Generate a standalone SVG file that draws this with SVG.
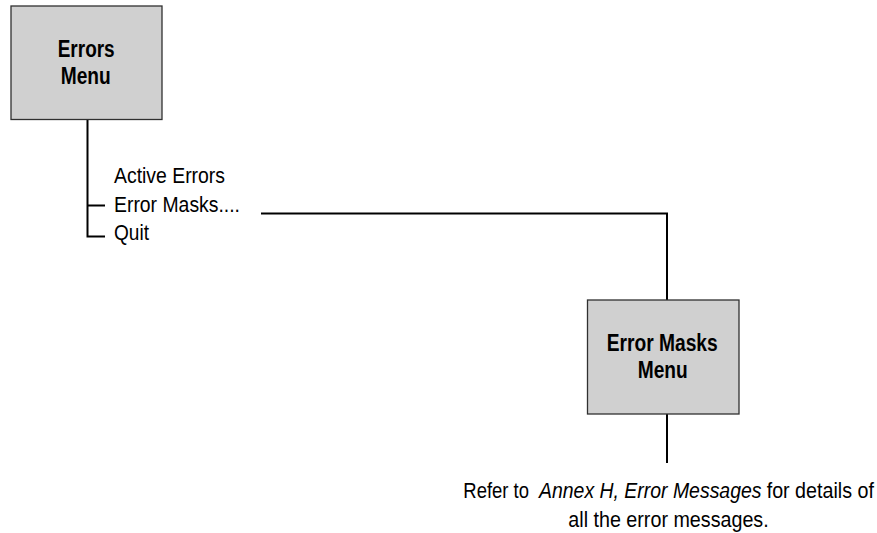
<svg xmlns="http://www.w3.org/2000/svg" width="877" height="533" viewBox="0 0 877 533">
<style>
.box{fill:#d0d0d0;stroke:#303030;stroke-width:1.3}
.ln{fill:none;stroke:#000;stroke-width:2}
.t{font-family:"Liberation Sans",Arial,sans-serif;fill:#000}
.b{font-size:23px;font-weight:bold}
.r{font-size:22px}
.i{font-style:italic}
</style>
<rect width="877" height="533" fill="#fff"/>
<g id="connectors">
<path class="ln" d="M87.5 120 V236.5 H105 M87.5 205.5 H105"/>
<path class="ln" d="M261 213.5 H667 V300"/>
<path class="ln" d="M667 414 V463"/>
</g>
<g id="errors-menu">
<rect class="box" x="11" y="6" width="151" height="113.5"/>
<text class="t b" x="57.7" y="57" textLength="57" lengthAdjust="spacingAndGlyphs">Errors</text>
<text class="t b" x="60.7" y="84" textLength="50" lengthAdjust="spacingAndGlyphs">Menu</text>
</g>
<g id="menu-items">
<text class="t r" x="114" y="183" textLength="111" lengthAdjust="spacingAndGlyphs">Active Errors</text>
<text class="t r" x="114" y="212" textLength="126" lengthAdjust="spacingAndGlyphs">Error Masks....</text>
<text class="t r" x="114" y="240" textLength="35" lengthAdjust="spacingAndGlyphs">Quit</text>
</g>
<g id="error-masks-menu">
<rect class="box" x="587.5" y="300" width="151.5" height="114"/>
<text class="t b" x="606.7" y="351" textLength="111" lengthAdjust="spacingAndGlyphs">Error Masks</text>
<text class="t b" x="637.7" y="378" textLength="50" lengthAdjust="spacingAndGlyphs">Menu</text>
</g>
<g id="note">
<text class="t r" transform="translate(463.3 498) scale(0.84 1)">Refer to</text>
<text class="t r i" transform="translate(539 498) scale(0.884 1)">Annex H, Error Messages</text>
<text class="t r" transform="translate(766.7 498) scale(0.895 1)">for details of</text>
<text class="t r" transform="translate(568.3 527) scale(0.896 1)">all the error messages.</text>
</g>
</svg>
